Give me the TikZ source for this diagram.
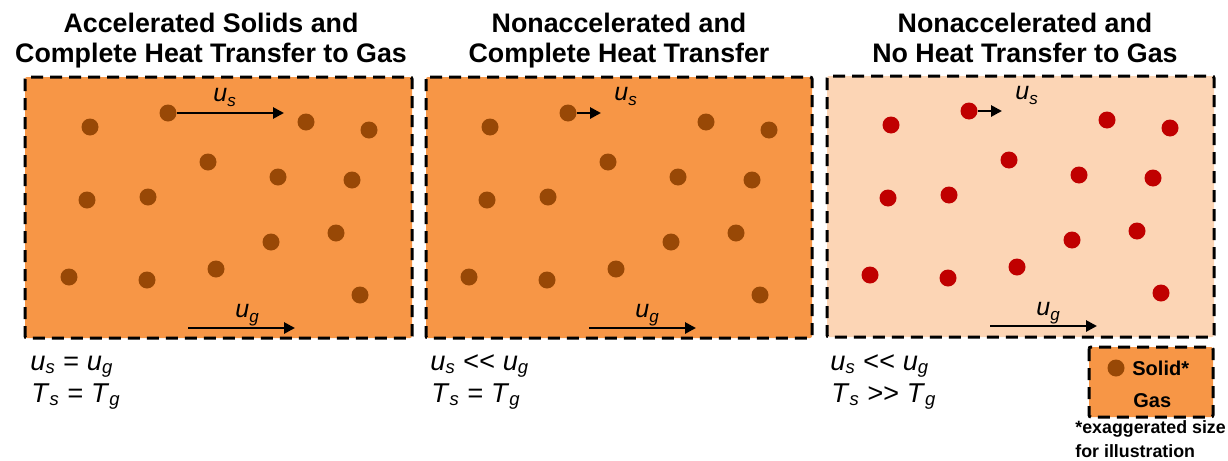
\documentclass[tikz,border=0pt]{standalone}
\usepackage{fontspec}
\setmainfont{Liberation Sans}
\usepackage{graphicx}
\usetikzlibrary{arrows.meta}
\definecolor{gasorange}{RGB}{247,150,70}
\definecolor{gaslight}{RGB}{252,213,181}
\definecolor{solidbrown}{RGB}{152,72,6}
\definecolor{solidred}{RGB}{192,0,0}
\newcommand\qsub[3][0.13em]{\textit{#2}\raisebox{-#1}{\scalebox{0.68}{\textit{#3}}}}
\newcommand\gap{\hspace{0.3em}}
\tikzset{
  panelbox/.style={draw=black, line width=1.5pt, dash pattern=on 6pt off 3.5pt, rounded corners=1pt},
  particle/.style={circle, inner sep=0pt, minimum size=8.5pt, draw=none},
  titletext/.style={font=\fontsize{13.4}{15}\selectfont\bfseries, anchor=base, inner sep=0pt},
  vellabel/.style={font=\fontsize{12.5}{15}\selectfont, anchor=base west, inner sep=0pt},
  condtext/.style={font=\fontsize{13.6}{16}\selectfont, anchor=base west, inner sep=0pt},
  legendtext/.style={font=\fontsize{10}{12}\selectfont\bfseries, anchor=base west, inner sep=0pt},
  notetext/.style={font=\fontsize{8.9}{10}\selectfont\bfseries, anchor=base west, inner sep=0pt},
  velarrow/.style={draw=black, line width=1.4pt, -{Triangle[length=5.5pt,width=5.5pt]}},
}
\begin{document}
\begin{tikzpicture}[x=0.5pt,y=-0.5pt]
\useasboundingbox (0,0) rectangle (1228,461);

% panel boxes
\path[panelbox, fill=gasorange] (25,77) rectangle (412,338);
\path[panelbox, fill=gasorange] (426,77) rectangle (812,338);
\path[panelbox, fill=gaslight] (827,76) rectangle (1214,337);

% titles
\node[titletext] (t1a) at (211,32) {Accelerated Solids and};
\node[titletext] (t1b) at (211,62) {Complete Heat Transfer to Gas};
\node[titletext] (t2a) at (619,32) {Nonaccelerated and};
\node[titletext] (t2b) at (619,62) {Complete Heat Transfer};
\node[titletext] (t3a) at (1025,32) {Nonaccelerated and};
\node[titletext] (t3b) at (1025,62) {No Heat Transfer to Gas};

% particles
\foreach \k/\dx/\dy/\col in {1/0/0/solidbrown, 2/400/0/solidbrown, 3/801/-2/solidred}{
  \foreach \px/\py [count=\j] in {90/127,168/113,306/122,369/130,208/162,278/177,352/180,87/200,148/197,271/242,336/233,69/277,147/280,216/269,360/295}{
    \node[particle, fill=\col] (p\k-\j) at (\px+\dx,\py+\dy) {};
  }
}

% velocity arrows
\coordinate (us1) at (284,113);
\coordinate (us2) at (601,113);
\coordinate (us3) at (1002,111);
\draw[velarrow] (p1-2.east) -- (us1);
\draw[velarrow] (p2-2.east) -- (us2);
\draw[velarrow] (p3-2.east) -- (us3);

\coordinate (ug1a) at (188,328); \coordinate (ug1b) at (295,328);
\coordinate (ug2a) at (589,328); \coordinate (ug2b) at (696,328);
\coordinate (ug3a) at (990,326); \coordinate (ug3b) at (1097,326);
\draw[velarrow] (ug1a) -- (ug1b);
\draw[velarrow] (ug2a) -- (ug2b);
\draw[velarrow] (ug3a) -- (ug3b);

\node[vellabel] (ls1) at (213,101) {\qsub[0.22em]{u}{s}};
\node[vellabel] (ls2) at (614,100) {\qsub[0.22em]{u}{s}};
\node[vellabel] (ls3) at (1015,99) {\qsub[0.22em]{u}{s}};
\node[vellabel] (lg1) at (235,317) {\qsub[0.22em]{u}{g}};
\node[vellabel] (lg2) at (635,317) {\qsub[0.22em]{u}{g}};
\node[vellabel] (lg3) at (1036,315) {\qsub[0.22em]{u}{g}};

% conditions
\node[condtext] (c1a) at (30,370) {\qsub{u}{s}\gap\textit{=}\gap\qsub{u}{g}};
\node[condtext] (c1b) at (31,402) {\qsub{T}{s}\gap\textit{=}\gap\qsub{T}{g}};
\node[condtext] (c2a) at (430,370) {\qsub{u}{s}\gap\textit{{<}{<}}\gap\qsub{u}{g}};
\node[condtext] (c2b) at (431,402) {\qsub{T}{s}\gap\textit{=}\gap\qsub{T}{g}};
\node[condtext] (c3a) at (830,370) {\qsub{u}{s}\gap\textit{{<}{<}}\gap\qsub{u}{g}};
\node[condtext] (c3b) at (831,402) {\qsub{T}{s}\gap\textit{{>}{>}}\gap\qsub{T}{g}};

% legend
\path[panelbox, fill=gasorange] (1089,347) rectangle (1213,417);
\node[particle, fill=solidbrown] (legdot) at (1116,368) {};
\node[legendtext] (legsolid) at (1132,375) {Solid*};
\node[legendtext] (leggas) at (1133,407) {Gas};
\node[notetext] (note1) at (1075,433) {*exaggerated size};
\node[notetext] (note2) at (1075,457) {for illustration};
\end{tikzpicture}
\end{document}
